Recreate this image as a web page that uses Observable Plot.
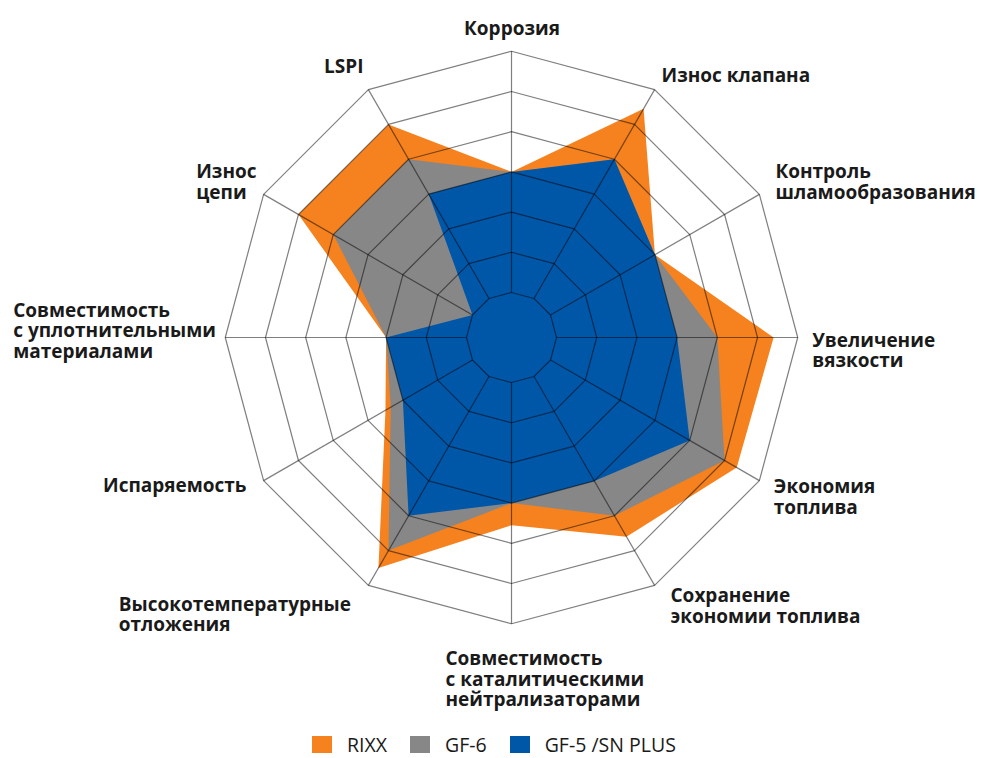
<!DOCTYPE html>
<html>
<head>
<meta charset="utf-8">
<script src="https://cdn.jsdelivr.net/npm/d3@7"></script>
<script src="https://cdn.jsdelivr.net/npm/@observablehq/plot@0.6"></script>
<style>
  html, body { margin: 0; padding: 0; background: #fff; }
  #wrap { position: relative; width: 982px; height: 758px; overflow: hidden; }
  #legend { position: absolute; top: 736px; left: 312px; display: flex; align-items: flex-start;
            font-family: "Open Sans", sans-serif; font-size: 19.5px; line-height: 17px; color: #1a1a1a; }
  .item { display: flex; align-items: flex-start; margin-right: 23px; }
  .sw { width: 20px; height: 17px; margin-top: 0px; margin-right: 15px; }
</style>
</head>
<body>
<div id="wrap"><div id="chart"></div><div id="legend"></div></div>
<script>
// ---- data ----
const categories = [
  "Коррозия",
  "Износ клапана",
  "Контроль\nшламообразования",
  "Увеличение\nвязкости",
  "Экономия\nтоплива",
  "Сохранение\nэкономии топлива",
  "Совместимость\nс каталитическими\nнейтрализаторами",
  "Высокотемпературные\nотложения",
  "Испаряемость",
  "Совместимость\nс уплотнительными\nматериалами",
  "Износ\nцепи",
  "LSPI"
];
const seriesNames = ["RIXX", "GF-6", "GF-5 /SN PLUS"];
const rixx = [4, 6.45, 4, 6.4, 6.35, 5.6, 4.55, 6.5, 3.5, 3, 6, 6];
const gf6  = [4, 5,    4, 5,   6,    5,   4,    6,   3.35, 3, 5, 5];
const gf5  = [4, 5,    4, 4,   5,    4,   4,    5,   3,   3, 1, 4];
const ringLevels = [1, 2, 3, 4, 5, 6, 7];

// ---- layout ----
const W = 982, H = 730, CX = 511, CY = 337, UNIT = 40.2, OFFSET = 0.12;
const colors = ["#F5821F", "#878787", "#0057A8"];
const n = categories.length;
const ang = i => i * 2 * Math.PI / n;
const rr = v => v + OFFSET;
const px = (i, v) => rr(v) * Math.sin(ang(i));
const py = (i, v) => rr(v) * Math.cos(ang(i));

const seriesData = [rixx, gf6, gf5].map((vals, s) =>
  vals.map((v, i) => ({series: seriesNames[s], i, v})));

const ringPts = ringLevels.flatMap(k => categories.map((c, i) => ({k, i})));

// label offsets (pixels from the outer vertex of each axis)
const labelLayout = [
  {a: "middle", dx: 0.5,   dy: -31.0},
  {a: "start",  dx: 6.9,   dy: -22.6},
  {a: "start",  dx: 16.1,  dy: -30.7},
  {a: "start",  dx: 14.5,  dy: -5.5},
  {a: "start",  dx: 14.4,  dy: -1.9},
  {a: "start",  dx: 15.9,  dy: 2.3},
  {a: "start",  dx: -66,   dy: 26.6},
  {a: "start",  dx: -249.6,dy: 10.9},
  {a: "end",    dx: -17.1, dy: -2.9},
  {a: "start",  dx: -212.1,dy: -35.5},
  {a: "start",  dx: -67.4, dy: -30.7},
  {a: "middle", dx: -24.6, dy: -30.9}
];

const marks = [];
seriesData.forEach((pts, s) => {
  marks.push(Plot.line(pts, {
    x: d => px(d.i, d.v), y: d => py(d.i, d.v),
    curve: "linear-closed", fill: colors[s], stroke: "none"
  }));
});
marks.push(Plot.line(ringPts, {
  x: d => px(d.i, d.k), y: d => py(d.i, d.k), z: "k",
  curve: "linear-closed", stroke: "#000", strokeOpacity: 0.5, strokeWidth: 1.2, fill: "none"
}));
marks.push(Plot.link(categories.map((c, i) => i), {
  x1: i => px(i, ringLevels[0]), y1: i => py(i, ringLevels[0]),
  x2: i => px(i, ringLevels[ringLevels.length - 1]), y2: i => py(i, ringLevels[ringLevels.length - 1]),
  stroke: "#000", strokeOpacity: 0.5, strokeWidth: 1.2
}));
categories.forEach((c, i) => {
  const L = labelLayout[i];
  const top = ringLevels[ringLevels.length - 1];
  marks.push(Plot.text([c], {
    x: () => px(i, top), y: () => py(i, top), text: d => d,
    textAnchor: L.a, lineAnchor: "top", dx: L.dx, dy: L.dy,
    fontSize: 19, fontWeight: "bold", lineHeight: 1.084, fill: "#1a1a1a"
  }));
});

const chart = Plot.plot({
  width: W, height: H,
  margin: 0,
  x: {domain: [-CX / UNIT, (W - CX) / UNIT], axis: null},
  y: {domain: [-(H - CY) / UNIT, CY / UNIT], axis: null},
  style: {fontFamily: "'Open Sans', sans-serif", background: "#fff"},
  marks
});
document.getElementById("chart").appendChild(chart);

const legend = document.getElementById("legend");
seriesNames.forEach((name, s) => {
  const it = document.createElement("div");
  it.className = "item";
  const sw = document.createElement("div");
  sw.className = "sw";
  sw.style.background = colors[s];
  const tx = document.createElement("span");
  tx.textContent = name;
  it.appendChild(sw); it.appendChild(tx);
  legend.appendChild(it);
});
</script>
</body>
</html>
